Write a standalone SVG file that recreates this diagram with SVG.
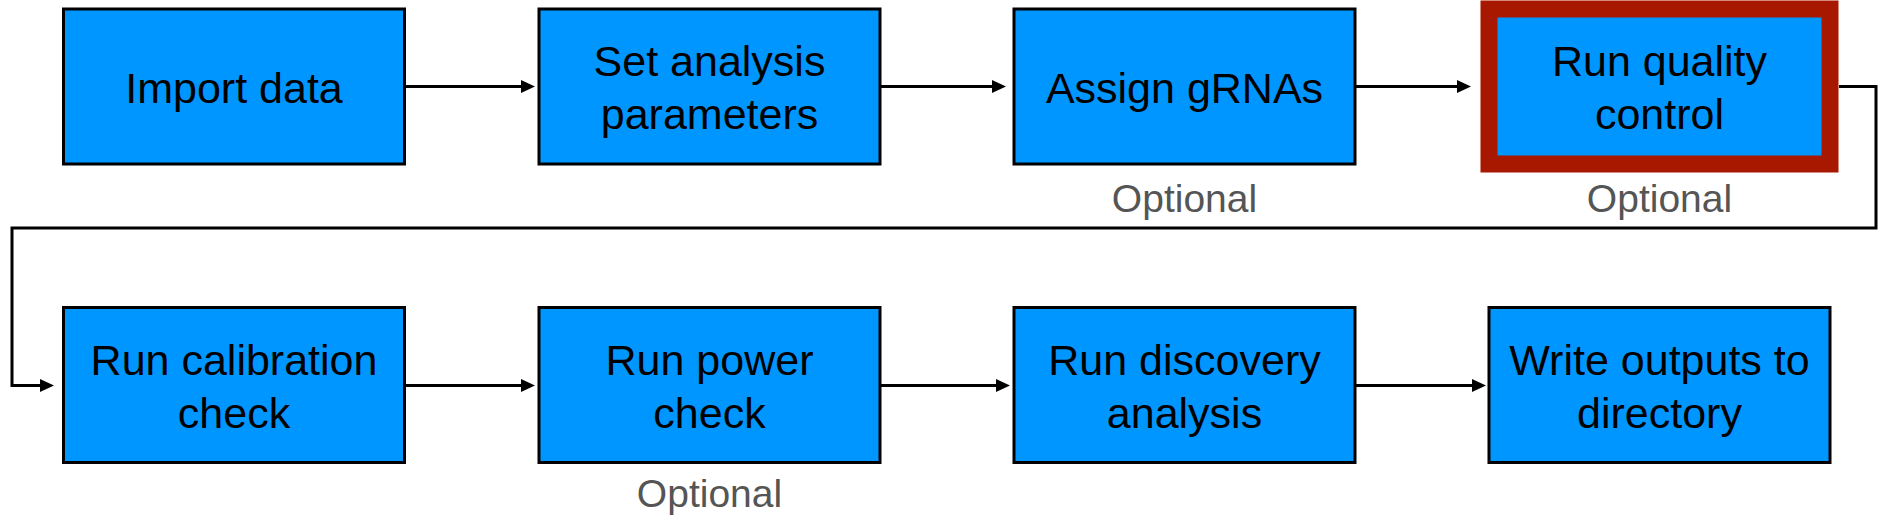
<svg xmlns="http://www.w3.org/2000/svg" width="1888" height="520" viewBox="0 0 1888 520">
<defs>
<style>
.box{fill:#0096FF;stroke:#000;stroke-width:3}
.qc{fill:#0096FF;stroke:#A81800;stroke-width:17}
.lbl{font-family:"Liberation Sans",Arial,Helvetica,sans-serif;font-size:43px;fill:#000;text-anchor:middle}
.opt{font-family:"Liberation Sans",Arial,Helvetica,sans-serif;font-size:39px;fill:#555;text-anchor:middle}
.conn{fill:none;stroke:#000;stroke-width:3}
</style>
<marker id="ah" markerUnits="userSpaceOnUse" markerWidth="14" markerHeight="13" refX="4" refY="6.5" orient="auto">
<path d="M0,0 L14,6.5 L0,13 z" fill="#000"/>
</marker>
</defs>
<rect width="1888" height="520" fill="#fff"/>
<g id="connectors">
<path class="conn" marker-end="url(#ah)" d="M406 86.5 H525"/>
<path class="conn" marker-end="url(#ah)" d="M881 86.5 H996"/>
<path class="conn" marker-end="url(#ah)" d="M1356 86.5 H1461"/>
<path class="conn" marker-end="url(#ah)" d="M1839 86.5 H1876 V228 H12 V385.5 H44"/>
<path class="conn" marker-end="url(#ah)" d="M406 385.5 H525"/>
<path class="conn" marker-end="url(#ah)" d="M881 385.5 H1000"/>
<path class="conn" marker-end="url(#ah)" d="M1356 385.5 H1476"/>
</g>
<g id="import-data">
<rect class="box" x="63.5" y="9" width="341" height="155"/>
<text class="lbl" x="234" y="103">Import data</text>
</g>
<g id="set-analysis-parameters">
<rect class="box" x="539" y="9" width="341" height="155"/>
<text class="lbl" x="709.5" y="76">Set analysis</text>
<text class="lbl" x="709.5" y="129">parameters</text>
</g>
<g id="assign-grnas">
<rect class="box" x="1014" y="9" width="341" height="155"/>
<text class="lbl" x="1184.5" y="103">Assign gRNAs</text>
<text class="opt" x="1184.5" y="212">Optional</text>
</g>
<g id="run-quality-control">
<rect class="qc" x="1489" y="9" width="341" height="155"/>
<text class="lbl" x="1659.5" y="76">Run quality</text>
<text class="lbl" x="1659.5" y="129">control</text>
<text class="opt" x="1659.5" y="212">Optional</text>
</g>
<g id="run-calibration-check">
<rect class="box" x="63.5" y="307.5" width="341" height="155"/>
<text class="lbl" x="234" y="375">Run calibration</text>
<text class="lbl" x="234" y="428">check</text>
</g>
<g id="run-power-check">
<rect class="box" x="539" y="307.5" width="341" height="155"/>
<text class="lbl" x="709.5" y="375">Run power</text>
<text class="lbl" x="709.5" y="428">check</text>
<text class="opt" x="709.5" y="507">Optional</text>
</g>
<g id="run-discovery-analysis">
<rect class="box" x="1014" y="307.5" width="341" height="155"/>
<text class="lbl" x="1184.5" y="375">Run discovery</text>
<text class="lbl" x="1184.5" y="428">analysis</text>
</g>
<g id="write-outputs">
<rect class="box" x="1489" y="307.5" width="341" height="155"/>
<text class="lbl" x="1659.5" y="375">Write outputs to</text>
<text class="lbl" x="1659.5" y="428">directory</text>
</g>
</svg>
